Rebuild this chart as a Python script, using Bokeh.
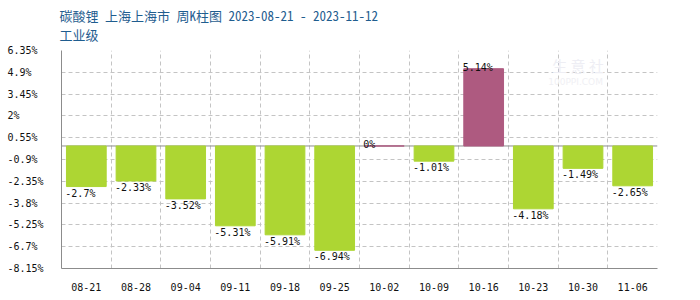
from bokeh.plotting import figure
from bokeh.models import ColumnDataSource, FixedTicker, Range1d, Span
from bokeh.core.properties import value
from bokeh.embed import file_html
from bokeh.resources import INLINE

categories = ["08-21", "08-28", "09-04", "09-11", "09-18", "09-25",
              "10-02", "10-09", "10-16", "10-23", "10-30", "11-06"]
changes = [-2.70, -2.33, -3.52, -5.31, -5.91, -6.94,
           0.00, -1.01, 5.14, -4.18, -1.49, -2.65]
y_ticks = [-8.15, -6.7, -5.25, -3.8, -2.35, -0.9, 0.55, 2.0, 3.45, 4.9, 6.35]
y_tick_labels = ["-8.15%", "-6.7%", "-5.25%", "-3.8%", "-2.35%", "-0.9%",
                 "0.55%", "2%", "3.45%", "4.9%", "6.35%"]
title_main = "碳酸锂 上海上海市 周K柱图 2023-08-21 - 2023-11-12"
title_sub = "工业级"

GREEN = "#add633"
PURPLE = "#ae5a80"
MONO = "DejaVu Sans Mono"
TFONT = "'Noto Sans Mono CJK SC', 'Noto Sans CJK SC'"

n = len(categories)
xs = [i + 0.5 for i in range(n)]
colors = [PURPLE if v >= 0 else GREEN for v in changes]
labels = [f"{v:g}%" for v in changes]

pos = [i for i, v in enumerate(changes) if v >= 0]
neg = [i for i, v in enumerate(changes) if v < 0]

src = ColumnDataSource(dict(x=xs, top=changes, color=colors, label=labels))
src_pos = ColumnDataSource(dict(x=[xs[i] for i in pos], y=[changes[i] for i in pos],
                                label=[labels[i] for i in pos]))
src_neg = ColumnDataSource(dict(x=[xs[i] for i in neg], y=[changes[i] for i in neg],
                                label=[labels[i] for i in neg]))

p = figure(width=700, height=300, output_backend="svg", toolbar_location=None,
           x_range=Range1d(0, n), y_range=Range1d(y_ticks[0], y_ticks[-1]),
           min_border_left=61, min_border_right=43, min_border_top=50,
           min_border_bottom=32)
p.background_fill_color = "white"
p.border_fill_color = "white"
p.outline_line_color = None

# title (two lines)
p.title.text = title_main + "\n" + title_sub
p.title.text_font = TFONT
p.title.text_font_size = "13px"
p.title.text_font_style = "normal"
p.title.text_color = "#1f5d8f"
p.title.text_line_height = 1.0
p.title.vertical_align = "top"
p.title.padding = 5
p.title.standoff = 0
p.title.offset = -7

# grid
p.xgrid.ticker = FixedTicker(ticks=list(range(n + 1)))
p.ygrid.ticker = FixedTicker(ticks=y_ticks)
for g in (p.xgrid, p.ygrid):
    g.grid_line_color = "#c4c4c4"
    g.grid_line_dash = "4 3"
    g.grid_line_width = 1

# axes
p.xaxis.ticker = FixedTicker(ticks=xs)
p.xaxis.major_label_overrides = {x: c for x, c in zip(xs, categories)}
width_y = max(len(s) for s in y_tick_labels)
p.yaxis.ticker = FixedTicker(ticks=y_ticks)
p.yaxis.major_label_overrides = {t: s.ljust(width_y, "\u00a0")
                                 for t, s in zip(y_ticks, y_tick_labels)}
for ax in (p.xaxis, p.yaxis):
    ax.axis_line_color = "#8c8c8c"
    ax.axis_line_width = 1
    ax.major_tick_line_color = None
    ax.minor_tick_line_color = None
    ax.major_label_text_font = MONO
    ax.major_label_text_font_size = "10px"
    ax.major_label_text_color = "#111111"
p.xaxis.major_label_standoff = 8
p.yaxis.major_label_standoff = 12

# zero line
p.add_layout(Span(location=0, dimension="width", line_color="#8c8c8c",
                  line_width=1, level="underlay"))

# watermark
p.text(x=[10.4], y=[5.38], text=["生 意 社"], text_font=value("Noto Sans CJK SC"),
       text_font_size="15px", text_color="#eeeef4", text_align="center",
       text_baseline="middle")
p.text(x=[10.35], y=[4.26], text=["100PPI.COM"], text_font=value("DejaVu Sans"),
       text_font_size="9px", text_color="#f0f0f4", text_align="center",
       text_baseline="middle")

# bars
p.vbar(x="x", top="top", bottom=0, width=0.8, fill_color="color",
       line_color="color", line_width=1, source=src)

# value labels
p.text(x="x", y="y", text="label", source=src_neg, text_font=value(MONO),
       text_font_size="10px", text_color="#111111", text_align="left",
       text_baseline="top", x_offset=-21, y_offset=1)
p.text(x="x", y="y", text="label", source=src_pos, text_font=value(MONO),
       text_font_size="10px", text_color="#111111", text_align="left",
       text_baseline="alphabetic", x_offset=-21, y_offset=-1)

open("out.html", "w").write(file_html(p, INLINE))
